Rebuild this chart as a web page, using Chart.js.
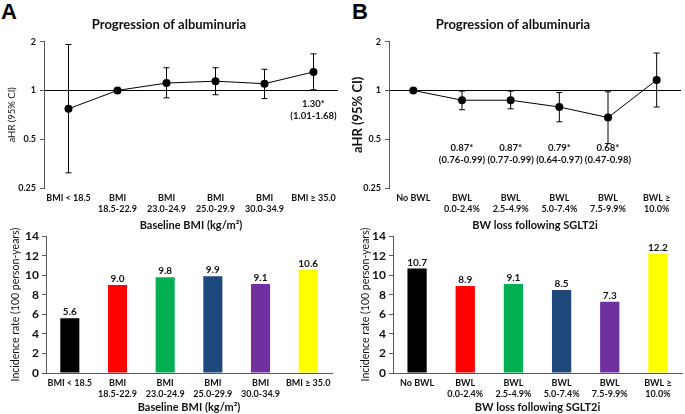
<!DOCTYPE html>
<html>
<head>
<meta charset="utf-8">
<script src="https://cdn.jsdelivr.net/npm/chart.js@4.4.1/dist/chart.umd.min.js"></script>
<style>
body { margin: 0; background: #fff; }
#fig { position: relative; width: 685px; height: 414px; overflow: hidden; }
#fig canvas { position: absolute; }
.panel { position: absolute; top: 1px; font: bold 22px "Liberation Sans", Arial, sans-serif; color: #000; line-height: 22px; }
</style>
</head>
<body>
<div id="fig">
  <div class="panel" style="left:1px">A</div>
  <div class="panel" style="left:352px">B</div>
  <canvas id="hrBmi" width="342" height="232" style="left:0;top:0"></canvas>
  <canvas id="hrBwl" width="342" height="232" style="left:343px;top:0"></canvas>
  <canvas id="rateBmi" width="342" height="188" style="left:0;top:226px"></canvas>
  <canvas id="rateBwl" width="342" height="188" style="left:343px;top:226px"></canvas>
</div>
<script>
const bmiLabels = ['BMI < 18.5', ['BMI', '18.5-22.9'], ['BMI', '23.0-24.9'], ['BMI', '25.0-29.9'], ['BMI', '30.0-34.9'], 'BMI ≥ 35.0'];
const bwlLabels = ['No BWL', ['BWL', '0.0-2.4%'], ['BWL', '2.5-4.9%'], ['BWL', '5.0-7.4%'], ['BWL', '7.5-9.9%'], ['BWL ≥', '10.0%']];

// adjusted hazard ratios with 95% CI (null = reference group)
const bmiHr = [0.77, 1.00, 1.11, 1.14, 1.10, 1.30];
const bmiLo = [0.31, null, 0.90, 0.94, 0.89, 1.01];
const bmiHi = [1.92, null, 1.38, 1.38, 1.35, 1.68];

const bwlHr = [1.00, 0.87, 0.87, 0.79, 0.68, 1.16];
const bwlLo = [null, 0.76, 0.77, 0.64, 0.47, 0.79];
const bwlHi = [null, 0.99, 0.99, 0.97, 0.98, 1.70];

// incidence rate per 100 person-years
const bmiRate = [5.6, 9.0, 9.8, 9.9, 9.1, 10.6];
const bwlRate = [10.7, 8.9, 9.1, 8.5, 7.3, 12.2];

const hrTicks = [0.25, 0.5, 1, 2];
const barColors = ['#000000', '#FF0000', '#00B050', '#1F497D', '#7030A0', '#FFFF00'];

const FONT = 'Lato, "Open Sans", sans-serif';
const TXT = '#111';
const AXIS = '#595959';

const errorBarPlugin = {
    id: 'errorBars',
    beforeDatasetsDraw(chart) {
        const ctx = chart.ctx;
        const y = chart.scales.y;
        chart.data.datasets.forEach((ds, i) => {
            const meta = chart.getDatasetMeta(i);
            meta.data.forEach((pt, j) => {
                if (ds.errLo[j] == null) return;
                const y1 = y.getPixelForValue(ds.errLo[j]);
                const y2 = y.getPixelForValue(ds.errHi[j]);
                ctx.save();
                ctx.strokeStyle = '#000';
                ctx.lineWidth = 1;
                ctx.beginPath();
                ctx.moveTo(pt.x, y1); ctx.lineTo(pt.x, y2);
                ctx.moveTo(pt.x - 3, y1); ctx.lineTo(pt.x + 3, y1);
                ctx.moveTo(pt.x - 3, y2); ctx.lineTo(pt.x + 3, y2);
                ctx.stroke();
                ctx.restore();
            });
        });
    }
};

// writes "0.87*" / "(0.76-0.99)" under the groups whose CI excludes 1
const hrNotePlugin = {
    id: 'hrNotes',
    afterDatasetsDraw(chart, args, opts) {
        const ctx = chart.ctx;
        const ds = chart.data.datasets[0];
        const meta = chart.getDatasetMeta(0);
        const yTop = chart.scales.y.getPixelForValue(opts.at);
        ctx.save();
        ctx.font = 'bold 9.5px ' + FONT;
        ctx.fillStyle = TXT;
        ctx.textAlign = 'center';
        ctx.textBaseline = 'middle';
        meta.data.forEach((pt, j) => {
            const lo = ds.errLo[j], hi = ds.errHi[j];
            if (lo == null || !(lo > 1 || hi < 1)) return;
            ctx.fillText(ds.data[j].toFixed(2) + '*', pt.x, yTop);
            ctx.fillText('(' + lo.toFixed(2) + '-' + hi.toFixed(2) + ')', pt.x, yTop + 12);
        });
        ctx.restore();
    }
};

const barValuePlugin = {
    id: 'barValues',
    afterDatasetsDraw(chart) {
        const ctx = chart.ctx;
        const ds = chart.data.datasets[0];
        ctx.save();
        ctx.font = 'bold 10px ' + FONT;
        ctx.fillStyle = TXT;
        ctx.textAlign = 'center';
        ctx.textBaseline = 'bottom';
        chart.getDatasetMeta(0).data.forEach((bar, j) => {
            ctx.fillText(ds.data[j].toFixed(1), bar.x, bar.y - 1);
        });
        ctx.restore();
    }
};

function hrChart(id, labels, hr, lo, hi, xTitle, yTitle, noteAt, yWidth, rightPad) {
    return new Chart(document.getElementById(id), {
        type: 'line',
        data: {
            labels: labels,
            datasets: [{
                data: hr,
                errLo: lo,
                errHi: hi,
                borderColor: '#000',
                borderWidth: 1,
                pointRadius: 4,
                pointBackgroundColor: '#000',
                pointBorderWidth: 0,
                tension: 0
            }]
        },
        options: {
            responsive: false,
            animation: false,
            layout: { padding: { right: rightPad } },
            plugins: {
                legend: { display: false },
                tooltip: { enabled: false },
                title: {
                    display: true,
                    text: 'Progression of albuminuria',
                    color: TXT,
                    font: { family: FONT, size: 13, weight: 'bold' },
                    padding: { top: 17, bottom: 9 }
                },
                hrNotes: { at: noteAt }
            },
            scales: {
                x: {
                    offset: true,
                    grid: { display: false, drawTicks: false },
                    border: { display: false },
                    ticks: { autoSkip: false, maxRotation: 0, padding: 4, color: TXT, font: { family: FONT, size: 9, weight: 'bold', lineHeight: 1.25 } },
                    title: { display: true, text: xTitle, color: TXT, font: { family: FONT, size: 11, weight: 'bold' }, padding: { top: 1, bottom: 0 } },
                    afterFit: s => { s.height = 44; }
                },
                y: {
                    type: 'logarithmic',
                    min: 0.25,
                    max: 2,
                    afterBuildTicks: s => { s.ticks = hrTicks.map(v => ({ value: v })); },
                    ticks: { callback: v => String(v), padding: 4, color: TXT, font: { family: FONT, size: 9, weight: 'bold' } },
                    grid: {
                        color: c => (c.tick && c.tick.value === 1 ? '#000' : 'rgba(0,0,0,0)'),
                        tickColor: AXIS,
                        tickLength: 4
                    },
                    border: { color: AXIS },
                    title: yTitle,
                    afterFit: s => { s.width = yWidth; }
                }
            }
        },
        plugins: [errorBarPlugin, hrNotePlugin]
    });
}

function rateChart(id, labels, rates, xTitle, yWidth, titlePad, rightPad) {
    return new Chart(document.getElementById(id), {
        type: 'bar',
        data: {
            labels: labels,
            datasets: [{
                data: rates,
                backgroundColor: barColors,
                borderWidth: 0,
                barPercentage: 0.4,
                categoryPercentage: 1
            }]
        },
        options: {
            responsive: false,
            animation: false,
            layout: { padding: { top: 9, right: rightPad } },
            plugins: {
                legend: { display: false },
                tooltip: { enabled: false }
            },
            scales: {
                x: {
                    grid: { display: false, drawTicks: false },
                    border: { color: AXIS },
                    ticks: { autoSkip: false, maxRotation: 0, padding: 5, color: TXT, font: { family: FONT, size: 9, weight: 'bold', lineHeight: 1.2 } },
                    title: { display: true, text: xTitle, color: TXT, font: { family: FONT, size: 11, weight: 'bold' }, padding: { top: 1, bottom: 0 } },
                    afterFit: s => { s.height = 41; }
                },
                y: {
                    min: 0,
                    max: 14,
                    ticks: { stepSize: 2, padding: 3, color: TXT, font: { family: FONT, size: 12, weight: 'bold' } },
                    grid: { drawOnChartArea: false, tickLength: 4, color: AXIS },
                    border: { color: AXIS },
                    title: { display: true, text: 'Incidence rate (100 person-years)', color: TXT, font: { family: FONT, size: 10.5 }, padding: { top: titlePad, bottom: 0 } },
                    afterFit: s => { s.width = yWidth; }
                }
            }
        },
        plugins: [barValuePlugin]
    });
}

hrChart('hrBmi', bmiLabels, bmiHr, bmiLo, bmiHi, 'Baseline BMI (kg/m²)',
    { display: true, text: 'aHR (95% CI)', color: TXT, font: { family: FONT, size: 9.5 }, padding: { top: 6, bottom: 0 } },
    0.83, 44, 4);
hrChart('hrBwl', bwlLabels, bwlHr, bwlLo, bwlHi, 'BW loss following SGLT2i',
    { display: true, text: 'aHR (95% CI)', color: TXT, font: { family: FONT, size: 13, weight: 'bold' }, padding: { top: 7, bottom: 0 } },
    0.44, 46, 2);
rateChart('rateBmi', bmiLabels, bmiRate, 'Baseline BMI (kg/m²)', 46, 9, 10);
rateChart('rateBwl', bwlLabels, bwlRate, 'BW loss following SGLT2i', 50, 16, 3);
</script>
</body>
</html>
